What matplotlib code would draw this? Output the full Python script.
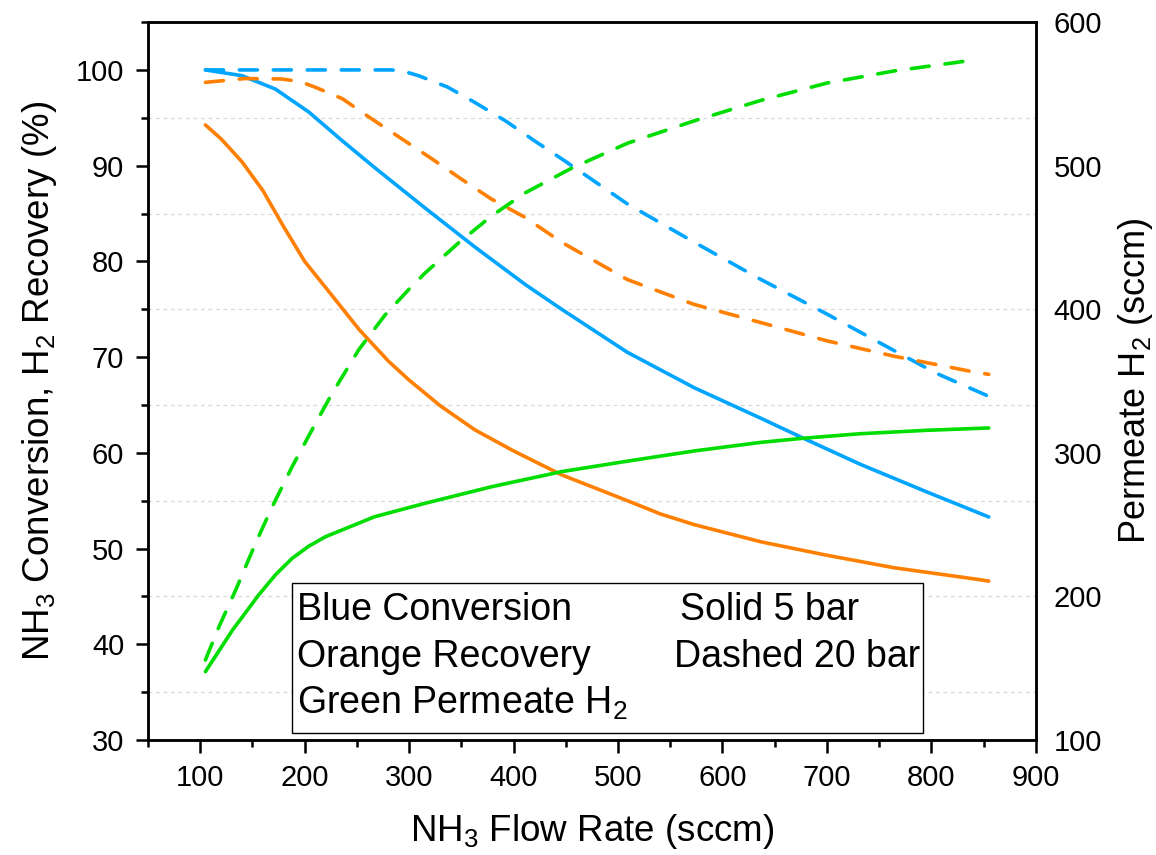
import matplotlib
matplotlib.use("Agg")
import matplotlib.pyplot as plt
from matplotlib.patches import Rectangle
from matplotlib.ticker import MultipleLocator

plt.rcParams['font.family'] = ['Liberation Sans', 'DejaVu Sans']
plt.rcParams['mathtext.fontset'] = 'custom'
plt.rcParams['mathtext.rm'] = 'Liberation Sans'
plt.rcParams['mathtext.it'] = 'Liberation Sans:italic'
plt.rcParams['mathtext.bf'] = 'Liberation Sans:bold'

# ---- data ----
conv5_x = [105, 140, 172, 204, 236, 267, 315, 363, 411, 446, 509, 573, 637, 678, 732, 796, 855]
conv5_y = [100.0, 99.4, 98.0, 95.6, 92.6, 89.8, 85.6, 81.5, 77.6, 75.0, 70.5, 66.8, 63.6, 61.5, 58.8, 55.9, 53.3]

rec5_x = [105, 120, 140, 160, 180, 200, 225, 252, 280, 300, 330, 363, 400, 446, 509, 541, 573, 637, 700, 764, 843, 855]
rec5_y = [94.25, 92.8, 90.4, 87.4, 83.6, 80.0, 76.6, 72.9, 69.6, 67.6, 64.9, 62.4, 60.2, 57.7, 55.0, 53.6, 52.5, 50.7, 49.3, 48.0, 46.8, 46.6]

conv20_x = [105, 200, 283, 295, 309, 337, 363, 392, 420, 449, 509, 573, 637, 700, 764, 805, 855]
conv20_y = [100, 100, 100, 99.85, 99.4, 98.2, 96.6, 94.7, 92.6, 90.5, 86.0, 82.0, 78.1, 74.5, 70.7, 68.3, 65.9]

rec20_x = [105, 143, 178, 195, 210, 236, 264, 293, 322, 350, 379, 411, 446, 509, 573, 637, 700, 764, 843, 855]
rec20_y = [98.7, 99.1, 99.05, 98.8, 98.2, 97.0, 94.9, 92.8, 90.7, 88.6, 86.5, 84.6, 82.0, 78.1, 75.5, 73.6, 71.7, 70.1, 68.4, 68.2]

perm5_x = [105, 131, 156, 172, 188, 204, 220, 267, 315, 379, 446, 509, 573, 637, 678, 732, 796, 855]
perm5_y = [147.6, 176.6, 201, 215, 226.5, 235, 241.6, 255.5, 264.8, 276.4, 286.9, 294.2, 301.3, 307.3, 310.2, 313.3, 315.7, 317.3]

perm20_x = [105, 118, 134, 153, 169, 188, 207, 226, 252, 277, 300, 315, 347, 379, 411, 455, 509, 573, 637, 700, 764, 845]
perm20_y = [155.7, 178.9, 204.5, 237, 262.5, 290.3, 315.9, 341, 372, 396, 414, 425, 446, 465, 481, 498, 515.6, 531.2, 545.5, 557.5, 565.9, 574]

x_ticks = [100, 200, 300, 400, 500, 600, 700, 800, 900]
left_ticks = [30, 40, 50, 60, 70, 80, 90, 100]
right_ticks = [100, 200, 300, 400, 500, 600]

legend_left = ["Blue Conversion", "Orange Recovery", "Green Permeate H$_2$"]
legend_right = ["Solid 5 bar", "Dashed 20 bar"]

# ---- styles ----
BLUE = '#00A5FF'
ORANGE = '#FF8000'
GREEN = '#00DD00'
LW = 2.6
DASH = (0, (5.0, 4.4))

fig = plt.figure(figsize=(11.56, 8.55), dpi=100)
ax = fig.add_axes([0.128, 0.1345, 0.768, 0.8397])
ax2 = ax.twinx()

ax.set_xlim(50, 900)
ax.set_ylim(30, 105)
ax2.set_ylim(100, 600)

solid_kw = dict(lw=LW, solid_capstyle='round', solid_joinstyle='round')
dash_kw = dict(lw=LW, linestyle=DASH, dash_capstyle='round', dash_joinstyle='round')
ax.plot(conv5_x, conv5_y, color=BLUE, **solid_kw)
ax.plot(rec5_x, rec5_y, color=ORANGE, **solid_kw)
ax.plot(conv20_x, conv20_y, color=BLUE, **dash_kw)
ax.plot(rec20_x, rec20_y, color=ORANGE, **dash_kw)
ax2.plot(perm5_x, perm5_y, color=GREEN, **solid_kw)
ax2.plot(perm20_x, perm20_y, color=GREEN, **dash_kw)

# grid at minor left ticks
for v in range(35, 105, 10):
    ax.axhline(v, color='#d9d9d9', lw=0.9, linestyle=(0, (3, 3)), zorder=0)

ax.set_xticks(x_ticks)
ax.xaxis.set_minor_locator(MultipleLocator(50))
ax.set_yticks(left_ticks)
ax.yaxis.set_minor_locator(MultipleLocator(5))
ax2.set_yticks(right_ticks)

ax.tick_params(axis='both', which='major', direction='out', length=9, width=1.8, labelsize=21, pad=8)
ax.tick_params(axis='both', which='minor', direction='out', length=5, width=1.8)
ax.tick_params(axis='x', which='both', top=False)
ax2.tick_params(axis='y', which='both', length=0, labelsize=21, pad=13)

for a in (ax, ax2):
    for s in a.spines.values():
        s.set_linewidth(1.8)

ax.set_xlabel("NH$_3$ Flow Rate (sccm)", fontsize=26.5, labelpad=15)
ax.set_ylabel("NH$_3$ Conversion, H$_2$ Recovery (%)", fontsize=26.5, labelpad=12)
ax2.set_ylabel("Permeate H$_2$ (sccm)", fontsize=26, labelpad=10)

# legend-like text box
ax.add_patch(Rectangle((0.162, 0.0098), 0.711, 0.209, transform=ax.transAxes,
                       fill=True, facecolor='white', edgecolor='black', lw=1.0, zorder=5))
ys = [0.167, 0.102, 0.037]
FS = 27
for t, y in zip(legend_left, ys):
    ax.text(0.168, y, t, transform=ax.transAxes, fontsize=FS, va='baseline', ha='left', zorder=6)
ax.text(0.599, ys[0], legend_right[0], transform=ax.transAxes, fontsize=FS, va='baseline', ha='left', zorder=6)
ax.text(0.592, ys[1], legend_right[1], transform=ax.transAxes, fontsize=FS, va='baseline', ha='left', zorder=6)

fig.savefig("out.png", dpi=100)
